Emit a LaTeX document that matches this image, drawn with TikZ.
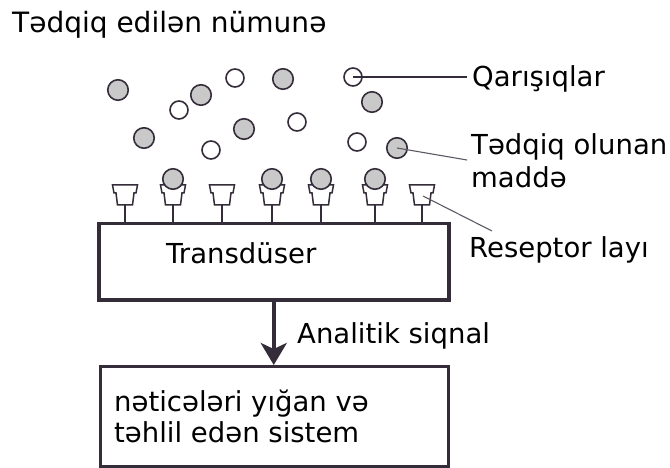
\documentclass[tikz,border=0pt]{standalone}
\usepackage{fontspec}
\setmainfont{DejaVu Sans}
\usetikzlibrary{arrows.meta}
\definecolor{ink}{HTML}{352C3A}
\definecolor{ballgrey}{HTML}{C9C9C9}
\definecolor{leader}{HTML}{5E5864}
\begin{document}
\begin{tikzpicture}[x=1pt,y=-1pt,
  lbl/.style={anchor=base west, inner sep=0pt, font=\fontsize{27.5}{34}\selectfont},
  ball/.style={circle, draw=ink, line width=1.6pt, fill=ballgrey, minimum size=20.5pt, inner sep=0pt},
  hole/.style={circle, draw=ink, line width=1.6pt, fill=white, minimum size=18pt, inner sep=0pt},
  cupline/.style={draw=ink, line width=1.5pt, fill=white, line join=miter},
  stem/.style={draw=ink, line width=2.6pt},
  box/.style={draw=ink, rectangle, inner sep=0pt},
  leaderline/.style={draw=leader, line width=1.1pt},
  mainleader/.style={draw=ink, line width=2pt},
  signal/.style={draw=ink, line width=4.5pt, -{Stealth[length=22pt,width=26pt,inset=6pt]}}
]
\useasboundingbox (0,0) rectangle (670,468);

% sample title
\node[lbl, font=\fontsize{28}{34}\selectfont] (title) at (12,33) {Tədqiq edilən nümunə};

% transducer and data system boxes
\node[box, line width=3.5pt, minimum width=350pt, minimum height=76pt, anchor=north west] (trans) at (97,222) {};
\node[lbl] (translbl) at (166,263) {Transdüser};
\node[box, line width=2.5pt, minimum width=348pt, minimum height=100pt, anchor=north west] (sys) at (99,365) {};
\node[lbl] (sys1) at (114,411) {nəticələri yığan və};
\node[lbl] (sys2) at (114,442) {təhlil edən sistem};

% analytical signal
\draw[signal] (trans.south) -- (trans.south |- sys.north);
\node[lbl] (siglbl) at (297,343) {Analitik siqnal};

% receptor layer
\foreach \cx/\k in {125/1,173/2,222/3,272/4,321/5,375/6,422/7} {
  \draw[cupline] (\cx-12.5,185) -- (\cx+12.5,185) -- (\cx+11,193) -- (\cx+9,193)
    -- (\cx+7.5,205) -- (\cx-7.5,205) -- (\cx-9,193) -- (\cx-11,193) -- cycle;
  \coordinate (r\k) at (\cx,205);
  \draw[stem] (r\k) -- (r\k |- trans.north);
}
\coordinate (rc7) at (423,196);

% bound analyte molecules
\node[ball] (b1) at (173,179) {};
\node[ball] (b2) at (272,179) {};
\node[ball] (b3) at (321,179) {};
\node[ball] (b4) at (375,179) {};

% free analyte molecules
\node[ball] (a1) at (118,90) {};
\node[ball] (a2) at (201,95) {};
\node[ball] (a3) at (283,79) {};
\node[ball] (a4) at (372,102) {};
\node[ball] (a5) at (144,138) {};
\node[ball] (a6) at (244,129) {};
\node[ball] (a7) at (397,148) {};

% impurities
\node[hole] (i1) at (235,78) {};
\node[hole] (i2) at (353,77) {};
\node[hole] (i3) at (179,110) {};
\node[hole] (i4) at (297,122) {};
\node[hole] (i5) at (211,150) {};
\node[hole] (i6) at (357,142) {};

% labels with leaders
\node[lbl] (qlbl) at (472,87) {Qarışıqlar};
\node[lbl] (alb1) at (471,155) {Tədqiq olunan};
\node[lbl] (alb2) at (471,188) {maddə};
\node[lbl] (rlbl) at (469,258) {Reseptor layı};
\coordinate (qend) at (467,77);
\coordinate (aend) at (467,160);
\coordinate (rend) at (492,231);
\draw[mainleader] (i2.center) -- (qend);
\draw[leaderline] (a7.center) -- (aend);
\draw[leaderline] (rc7) -- (rend);
\end{tikzpicture}
\end{document}
